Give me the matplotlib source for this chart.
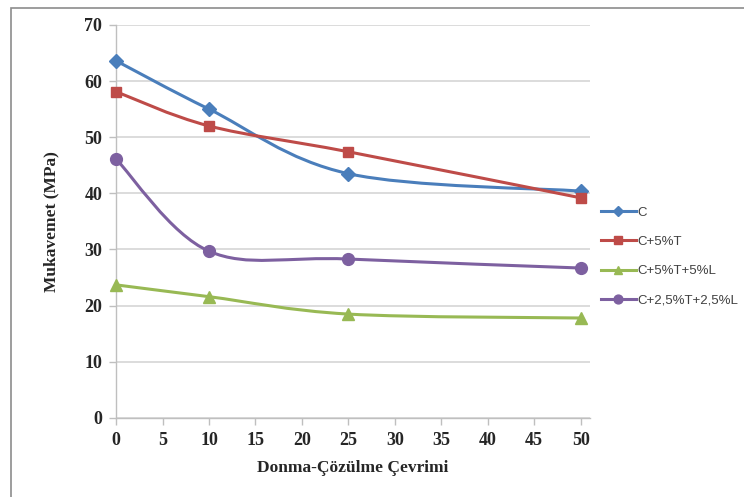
import numpy as np
import matplotlib.pyplot as plt
from matplotlib.path import Path
from matplotlib.patches import PathPatch, Rectangle
from matplotlib.lines import Line2D

# Data
cycles = [0, 10, 25, 50]
s_c = [63.6, 55.0, 43.5, 40.4]
s_c5t = [58.1, 52.0, 47.4, 39.2]
s_c5t5l = [23.7, 21.6, 18.5, 17.8]
s_c25t25l = [46.1, 29.7, 28.3, 26.7]
labels = ['C', 'C+5%T', 'C+5%T+5%L', 'C+2,5%T+2,5%L']
yticks = [0, 10, 20, 30, 40, 50, 60, 70]
xticks = [0, 5, 10, 15, 20, 25, 30, 35, 40, 45, 50]


def smooth_path(x, y):
    # Excel-like smoothed line: cubic Bezier with Catmull-Rom control points
    p = np.column_stack([x, y]).astype(float)
    n = len(p)
    verts = [p[0]]
    codes = [Path.MOVETO]
    for i in range(n - 1):
        p0 = p[i - 1] if i > 0 else p[i]
        p1 = p[i]
        p2 = p[i + 1]
        p3 = p[i + 2] if i + 2 < n else p[i + 1]
        c1 = p1 + (p2 - p0) / 6.0
        c2 = p2 - (p3 - p1) / 6.0
        verts += [c1, c2, p2]
        codes += [Path.CURVE4] * 3
    return Path(verts, codes)


series = [
    (s_c, '#4A7EBB', 'D', 7),
    (s_c5t, '#BE4B48', 's', 7.5),
    (s_c5t5l, '#98B954', '^', 8.5),
    (s_c25t25l, '#7D60A0', 'o', 8.5),
]

fig = plt.figure(figsize=(7.44, 4.97), dpi=100)
ax = fig.add_axes([0.156, 0.159, 0.637, 0.791])

# outer chart frame (cropped at right and bottom)
fig.patches.append(Rectangle((11 / 744, -0.05), 1.0, 1 - 8 / 497 + 0.05,
                             transform=fig.transFigure, fill=False,
                             edgecolor='#8c8c8c', linewidth=1.2))

handles = []
for vals, col, mk, ms in series:
    ax.add_patch(PathPatch(smooth_path(cycles, vals), fill=False,
                           edgecolor=col, linewidth=2.2, zorder=3))
    ax.plot(cycles, vals, linestyle='none', marker=mk, markersize=ms,
            color=col, zorder=4, clip_on=False)
    handles.append(Line2D([], [], color=col, linewidth=2.2, marker=mk,
                          markersize=ms * 0.75))

ax.set_xlim(0, 51)
ax.set_ylim(0, 70)
ax.set_xticks(xticks)
ax.set_yticks(yticks)
ax.grid(axis='y', color='#d9d9d9', linewidth=1.3)
ax.set_axisbelow(True)

for side in ['top', 'right']:
    ax.spines[side].set_visible(False)
for side in ['left', 'bottom']:
    ax.spines[side].set_color('#bfbfbf')
    ax.spines[side].set_linewidth(1.0)
ax.spines['left'].set_zorder(2)

ax.tick_params(axis='both', color='#bfbfbf', length=5, width=1.0,
               labelsize=13, labelcolor='#262626', pad=5)
for lab in ax.get_xticklabels() + ax.get_yticklabels():
    lab.set_fontfamily('Liberation Serif')
    lab.set_fontweight('bold')

ax.set_xlabel('Donma-Çözülme Çevrimi', fontsize=12.5, fontweight='bold',
              family='Liberation Serif', color='#262626', labelpad=8)
ax.set_ylabel('Mukavemet (MPa)', fontsize=12.5, fontweight='bold',
              family='Liberation Serif', color='#262626', labelpad=18)

fig.legend(handles, labels, loc='upper left', bbox_to_anchor=(596 / 744, 1 - 201 / 497),
           frameon=False, labelspacing=1.3, handlelength=2.6,
           handletextpad=0.1, borderaxespad=0, labelcolor='#404040',
           prop={'family': 'Liberation Sans', 'size': 9.5})

fig.savefig('out.png', dpi=100)
